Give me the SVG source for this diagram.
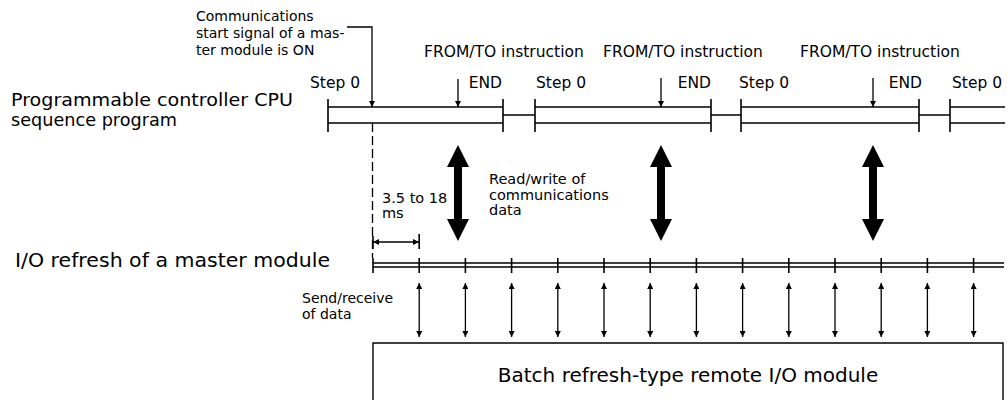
<svg xmlns="http://www.w3.org/2000/svg" width="1008" height="400" viewBox="0 0 1008 400">
<defs>
<style>
.ln{stroke:#000;stroke-width:1.4;fill:none}
.tk{stroke:#000;stroke-width:1.6;fill:none}
.ar{stroke:#000;stroke-width:1.3;fill:none}
.sr{stroke:#000;stroke-width:1.3;fill:none;marker-start:url(#ah);marker-end:url(#ah)}
.t{font-family:"DejaVu Sans","Liberation Sans",sans-serif;fill:#000}
.s14{font-size:14px}
.s145{font-size:14.5px}
.s15{font-size:15.5px}
.s18{font-size:18px}
.s20{font-size:20px}
.big{fill:#000}
</style>
<marker id="ah" viewBox="0 0 10 10" refX="10" refY="5" markerWidth="8" markerHeight="6" markerUnits="userSpaceOnUse" orient="auto-start-reverse"><path d="M0,0 L10,5 L0,10 z" fill="#000"/></marker>
</defs>
<rect width="1008" height="400" fill="#fff"/>

<g id="labels">
<text class="t s18" x="11" y="105.5" textLength="282" lengthAdjust="spacingAndGlyphs">Programmable controller CPU</text>
<text class="t s18" x="11" y="125.5" textLength="166" lengthAdjust="spacingAndGlyphs">sequence program</text>
<text class="t s20" x="15" y="267" textLength="315" lengthAdjust="spacingAndGlyphs">I/O refresh of a master module</text>
<text class="t s14" x="196" y="21">Communications</text>
<text class="t s14" x="196" y="38">start signal of a mas-</text>
<text class="t s14" x="196" y="55">ter module is ON</text>
<text class="t s15" x="424" y="57">FROM/TO instruction</text>
<text class="t s15" x="603" y="57">FROM/TO instruction</text>
<text class="t s15" x="800" y="57">FROM/TO instruction</text>
<text class="t s15" x="310" y="88">Step 0</text>
<text class="t s15" x="536" y="88">Step 0</text>
<text class="t s15" x="739" y="88">Step 0</text>
<text class="t s15" x="952" y="88">Step 0</text>
<text class="t s15" x="502" y="88" text-anchor="end">END</text>
<text class="t s15" x="711" y="88" text-anchor="end">END</text>
<text class="t s15" x="922" y="88" text-anchor="end">END</text>
<text class="t s145" x="382" y="203">3.5 to 18</text>
<text class="t s145" x="382" y="218">ms</text>
<text class="t s145" x="489" y="184">Read/write of</text>
<text class="t s145" x="489" y="199.5">communications</text>
<text class="t s145" x="489" y="215">data</text>
<text class="t s14" x="302" y="303">Send/receive</text>
<text class="t s14" x="302" y="319">of data</text>
</g>

<g id="cpu-sequence">
<path class="ln" d="M328,107H503M328,123H503M535,107H711M535,123H711M741,107H919M741,123H919M950,107H1005M950,123H1005"/>
<path class="ln" d="M503,115H535M711,115H741M919,115H950"/>
<path class="tk" d="M328,99V132M503,99V132M535,99V132M711,99V132M741,99V132M919,99V132M950,99V132"/>
</g>

<g id="io-refresh">
<path class="ln" d="M373,263H1004M373,267H1004"/>
<path class="tk" d="M373,258V273M419.2,258V273M465.4,258V273M511.6,258V273M557.8,258V273M604,258V273M650.2,258V273M696.4,258V273M742.6,258V273M788.8,258V273M835,258V273M881.2,258V273M927.4,258V273M973.6,258V273"/>
</g>

<g id="remote-io">
<path class="ln" d="M373,401V343H1003V401"/>
<text class="t s20" x="688" y="382" text-anchor="middle">Batch refresh-type remote I/O module</text>
</g>

<g id="connectors">
<path class="ar" d="M347,27H372V107" marker-end="url(#ah)"/>
<path class="ar" d="M458,79V107" marker-end="url(#ah)"/>
<path class="ar" d="M661,78V107" marker-end="url(#ah)"/>
<path class="ar" d="M873,78V107" marker-end="url(#ah)"/>
<path class="ar" d="M372.5,123V258" stroke-dasharray="9,4"/>
<path class="ar" d="M373,242H419" marker-start="url(#ah)" marker-end="url(#ah)"/>
<path class="tk" d="M373,236V249M419.2,234V249"/>
<polygon class="big" points="458,145 469,167 462,167 462,219 469,219 458,241 447,219 454,219 454,167 447,167"/>
<polygon class="big" points="661,145 672,167 665,167 665,219 672,219 661,241 650,219 657,219 657,167 650,167"/>
<polygon class="big" points="873,145 884,167 877,167 877,219 884,219 873,241 862,219 869,219 869,167 862,167"/>
<line class="sr" x1="419.2" y1="283" x2="419.2" y2="337"/>
<line class="sr" x1="465.4" y1="283" x2="465.4" y2="337"/>
<line class="sr" x1="511.6" y1="283" x2="511.6" y2="337"/>
<line class="sr" x1="557.8" y1="283" x2="557.8" y2="337"/>
<line class="sr" x1="604" y1="283" x2="604" y2="337"/>
<line class="sr" x1="650.2" y1="283" x2="650.2" y2="337"/>
<line class="sr" x1="696.4" y1="283" x2="696.4" y2="337"/>
<line class="sr" x1="742.6" y1="283" x2="742.6" y2="337"/>
<line class="sr" x1="788.8" y1="283" x2="788.8" y2="337"/>
<line class="sr" x1="835" y1="283" x2="835" y2="337"/>
<line class="sr" x1="881.2" y1="283" x2="881.2" y2="337"/>
<line class="sr" x1="927.4" y1="283" x2="927.4" y2="337"/>
<line class="sr" x1="973.6" y1="283" x2="973.6" y2="337"/>
</g>
</svg>
